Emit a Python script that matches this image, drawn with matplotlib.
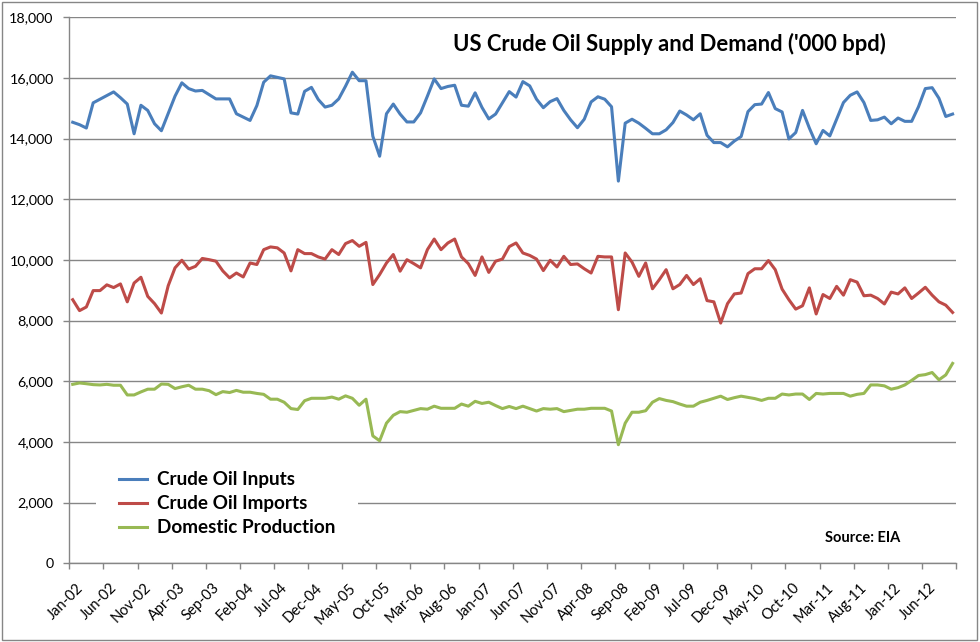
# -*- coding: utf-8 -*-
# US crude oil supply and demand, monthly Jan-02 .. Oct-12 ('000 bpd)

import numpy as np
import matplotlib
matplotlib.use('Agg')
import matplotlib.pyplot as plt
from matplotlib.patches import Rectangle

plt.rcParams['font.family'] = ['Lato', 'DejaVu Sans']

tick_labels = ['Jan-02', 'Jun-02', 'Nov-02', 'Apr-03', 'Sep-03', 'Feb-04',
               'Jul-04', 'Dec-04', 'May-05', 'Oct-05', 'Mar-06', 'Aug-06',
               'Jan-07', 'Jun-07', 'Nov-07', 'Apr-08', 'Sep-08', 'Feb-09',
               'Jul-09', 'Dec-09', 'May-10', 'Oct-10', 'Mar-11', 'Aug-11',
               'Jan-12', 'Jun-12']

inputs = [14540, 14460, 14350, 15180, 15300, 15420, 15540, 15350, 15140, 14160,
          15100, 14930, 14490, 14260, 14830, 15400, 15840, 15650, 15570, 15590,
          15450, 15310, 15310, 15310, 14820, 14710, 14600, 15090, 15860, 16070,
          16020, 15970, 14850, 14810, 15560, 15690, 15290, 15040, 15100, 15310,
          15730, 16190, 15910, 15910, 14080, 13420, 14820, 15140, 14810, 14550,
          14550, 14850, 15400, 15970, 15650, 15720, 15760, 15100, 15070, 15510,
          15030, 14650, 14810, 15180, 15550, 15370, 15880, 15740, 15300, 15020,
          15220, 15320, 14930, 14620, 14360, 14640, 15210, 15380, 15300, 15050,
          12600, 14510, 14640, 14510, 14340, 14160, 14160, 14290, 14530, 14910,
          14780, 14620, 14820, 14110, 13870, 13870, 13730, 13920, 14070, 14890,
          15120, 15140, 15520, 14990, 14880, 13990, 14200, 14930, 14350, 13830,
          14270, 14090, 14640, 15190, 15430, 15540, 15190, 14600, 14620, 14710,
          14490, 14680, 14570, 14570, 15050, 15650, 15680, 15330, 14730, 14810]

imports = [8690, 8330, 8450, 8990, 8990, 9180, 9090, 9210, 8620, 9240,
           9430, 8800, 8560, 8250, 9150, 9740, 9990, 9700, 9790, 10050,
           10010, 9960, 9640, 9410, 9570, 9440, 9900, 9850, 10340, 10430,
           10400, 10230, 9640, 10340, 10210, 10210, 10100, 10030, 10340, 10180,
           10540, 10640, 10450, 10580, 9190, 9520, 9900, 10180, 9630, 10010,
           9880, 9740, 10340, 10690, 10340, 10560, 10690, 10100, 9880, 9490,
           10100, 9590, 9960, 10030, 10440, 10560, 10230, 10150, 10030, 9650,
           9990, 9770, 10120, 9850, 9870, 9710, 9570, 10120, 10100, 10100,
           8360, 10230, 9930, 9460, 9900, 9050, 9350, 9680, 9050, 9190,
           9490, 9190, 9380, 8660, 8620, 7920, 8560, 8880, 8910, 9550,
           9710, 9710, 9980, 9680, 9040, 8690, 8380, 8490, 9080, 8220,
           8860, 8730, 9130, 8840, 9350, 9270, 8820, 8840, 8730, 8550,
           8940, 8880, 9080, 8730, 8910, 9100, 8840, 8620, 8510, 8270]

production = [5900, 5945, 5920, 5890, 5880, 5900, 5870, 5870, 5550, 5550,
              5650, 5740, 5740, 5910, 5900, 5760, 5820, 5870, 5740, 5740,
              5690, 5560, 5660, 5630, 5700, 5640, 5640, 5600, 5570, 5410,
              5410, 5310, 5100, 5070, 5360, 5440, 5440, 5440, 5480, 5410,
              5520, 5440, 5210, 5410, 4200, 4040, 4620, 4880, 5000, 4980,
              5040, 5100, 5080, 5180, 5110, 5110, 5110, 5250, 5180, 5340,
              5270, 5310, 5200, 5100, 5170, 5100, 5180, 5100, 5020, 5100,
              5080, 5100, 5000, 5040, 5080, 5080, 5110, 5110, 5110, 5020,
              3910, 4620, 4980, 4980, 5030, 5310, 5430, 5370, 5330, 5250,
              5180, 5180, 5310, 5370, 5440, 5510, 5400, 5460, 5510, 5470,
              5430, 5370, 5440, 5440, 5580, 5550, 5580, 5580, 5400, 5600,
              5580, 5600, 5600, 5600, 5510, 5570, 5600, 5880, 5880, 5850,
              5740, 5790, 5880, 6030, 6190, 6220, 6290, 6050, 6210, 6590]

n = len(inputs)
x = np.arange(n)

W, H = 980, 642
fig = plt.figure(figsize=(W / 100, H / 100), dpi=100)
ax = fig.add_axes([69.3 / W, (H - 563.3) / H, (956 - 69.3) / W, (563.3 - 17.3) / H])

grey = '#868686'
ax.plot(x, inputs, color='#4A7EBB', lw=2.2, label='Crude Oil Inputs', zorder=3)
ax.plot(x, imports, color='#BE4B48', lw=2.2, label='Crude Oil Imports', zorder=3)
ax.plot(x, production, color='#98B954', lw=2.2, label='Domestic Production', zorder=3)

ax.set_xlim(-0.5, n - 0.5)
ax.set_ylim(0, 18000)
ax.set_yticks(np.arange(0, 18001, 2000))
ax.set_yticklabels(['{:,}'.format(v) for v in range(0, 18001, 2000)])
ax.yaxis.grid(True, color=grey, lw=1)
ax.set_axisbelow(True)

# tick marks on category boundaries, labels next to them
ax.set_xticks(np.arange(-0.5, n, 5))
ax.set_xticklabels([])
ax.set_xticks(np.arange(0, n, 5) + 0.5, tick_labels, minor=True)
ax.tick_params(axis='x', which='major', length=4, width=1, color=grey, direction='out')
ax.tick_params(axis='x', which='minor', length=0, pad=12.5, labelsize=10.5)
ax.tick_params(axis='y', length=4.3, width=1, color=grey, pad=7, labelsize=10.3)
plt.setp(ax.get_xticklabels(minor=True), rotation=45, ha='right', va='top',
         rotation_mode='anchor')

for s in ['top', 'right']:
    ax.spines[s].set_visible(False)
for s in ['left', 'bottom']:
    ax.spines[s].set_color(grey)
    ax.spines[s].set_linewidth(1)

ax.text(0.677, 0.951, "US Crude Oil Supply and Demand ('000 bpd)", transform=ax.transAxes,
        ha='center', va='center', fontsize=15.8, fontweight='bold')
ax.text(0.895, 0.046, 'Source: EIA', transform=ax.transAxes,
        ha='center', va='center', fontsize=10.5, fontweight='bold')

leg = ax.legend(loc='center left', bbox_to_anchor=(0.030, 0.109), frameon=True,
                fancybox=False, borderaxespad=0, borderpad=1.2, handlelength=1.5,
                handletextpad=0.53, labelspacing=0.37,
                prop={'weight': 'bold', 'size': 13.6})
leg.get_frame().set_facecolor('white')
leg.get_frame().set_edgecolor('none')
leg.get_frame().set_alpha(1)

fig.patches.append(Rectangle((2 / W, 2 / H), 975 / W, 638 / H, transform=fig.transFigure,
                             fill=False, edgecolor=grey, lw=1))

fig.savefig('out.png', dpi=100)
